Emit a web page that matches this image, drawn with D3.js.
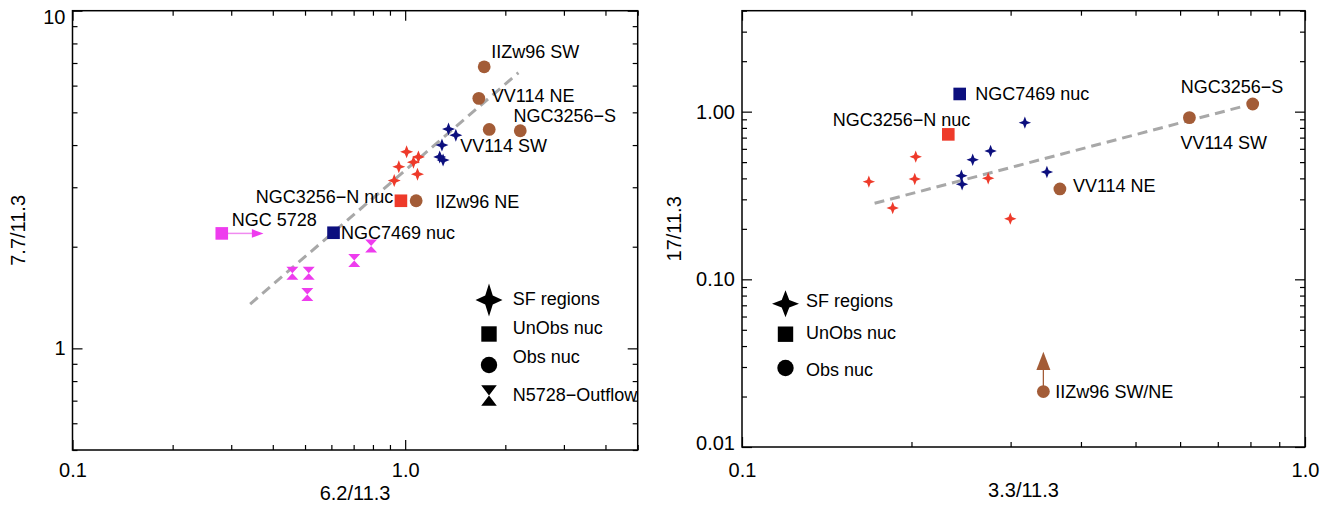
<!DOCTYPE html>
<html>
<head>
<meta charset="utf-8">
<script src="https://cdn.jsdelivr.net/npm/d3@7"></script>
<style>
  body { margin: 0; background: #fff; }
  svg { display: block; font-family: "Liberation Sans", Arial, Helvetica, sans-serif; }
</style>
</head>
<body>
<svg id="chart" width="1336" height="506"></svg>
<script>
// ---- left panel: 6.2/11.3 vs 7.7/11.3 ----
const leftSfRedX = [1.01, 1.096, 1.059, 0.957, 1.089, 0.927];
const leftSfRedY = [3.82, 3.69, 3.56, 3.45, 3.28, 3.14];
const leftSfBlueX = [1.35, 1.42, 1.29, 1.27, 1.30];
const leftSfBlueY = [4.46, 4.28, 4.00, 3.69, 3.61];
const leftObsNames = ['IIZw96 SW', 'VV114 NE', 'VV114 SW', 'NGC3256\u2212S', 'IIZw96 NE'];
const leftObsX = [1.728, 1.665, 1.789, 2.218, 1.079];
const leftObsY = [6.82, 5.50, 4.45, 4.41, 2.736];
const leftUnobsNames = ['NGC3256\u2212N nuc', 'NGC7469 nuc', 'NGC 5728'];
const leftUnobsX = [0.971, 0.609, 0.281];
const leftUnobsY = [2.736, 2.20, 2.19];
const leftUnobsGroup = ['red', 'navy', 'magenta'];
const leftOutflowX = [0.79, 0.703, 0.458, 0.513, 0.508];
const leftOutflowY = [2.01, 1.82, 1.67, 1.67, 1.445];
const leftFitX = [0.342, 2.19];
const leftFitY = [1.353, 6.55];
const leftLimitFromX = 0.281, leftLimitToX = 0.375, leftLimitY = 2.19;   // NGC 5728 lower limit

// ---- right panel: 3.3/11.3 vs 17/11.3 ----
const rightSfRedX = [0.168, 0.2035, 0.2027, 0.1852, 0.2737, 0.2996];
const rightSfRedY = [0.3825, 0.539, 0.3967, 0.2663, 0.4003, 0.23];
const rightSfBlueX = [0.318, 0.2764, 0.2569, 0.2453, 0.246, 0.348];
const rightSfBlueY = [0.86, 0.582, 0.517, 0.415, 0.3686, 0.4367];
const rightObsNames = ['VV114 NE', 'VV114 SW', 'NGC3256\u2212S', 'IIZw96 SW/NE'];
const rightObsX = [0.367, 0.6233, 0.8074, 0.343];
const rightObsY = [0.346, 0.921, 1.111, 0.0214];
const rightUnobsNames = ['NGC7469 nuc', 'NGC3256\u2212N nuc'];
const rightUnobsX = [0.2436, 0.2325];
const rightUnobsY = [1.275, 0.732];
const rightUnobsGroup = ['navy', 'red'];
const rightFitX = [0.172, 0.78];
const rightFitY = [0.284, 1.08];
const rightLimitX = 0.343, rightLimitFromY = 0.0214, rightLimitToY = 0.037;  // IIZw96 SW/NE lower limit

// ---- ticks and titles ----
const leftXTicks = [0.1, 1], leftXTickLabels = ['0.1', '1.0'];
const leftYTicks = [1, 10], leftYTickLabels = ['1', '10'];
const rightXTicks = [0.1, 1], rightXTickLabels = ['0.1', '1.0'];
const rightYTicks = [0.01, 0.1, 1], rightYTickLabels = ['0.01', '0.10', '1.00'];
const leftLegendLabels = ['SF regions', 'UnObs nuc', 'Obs nuc', 'N5728\u2212Outflow'];
const rightLegendLabels = ['SF regions', 'UnObs nuc', 'Obs nuc'];

const colors = { red: '#ee3a2a', navy: '#0c0f7e', brown: '#a35c37', magenta: '#ee3cee', fit: '#a8a8a8' };

// label offsets from the marker centre (px)
const leftLabelPos = {
	'IIZw96 SW': [7, -8.7, 'start'],
	'VV114 NE': [13, 4, 'start'],
	'VV114 SW': [-29, 22.4, 'start'],
	'NGC3256\u2212S': [-6.7, -8.7, 'start'],
	'IIZw96 NE': [19, 7, 'start'],
	'NGC3256\u2212N nuc': [-7.7, 2.3, 'end'],
	'NGC7469 nuc': [7.4, 6.3, 'start'],
	'NGC 5728': [10, -7, 'start']
};
const rightLabelPos = {
	'NGC7469 nuc': [15.5, 6, 'start'],
	'NGC3256\u2212N nuc': [22, -8, 'end'],
	'NGC3256\u2212S': [-72, -11, 'start'],
	'VV114 SW': [-9, 31, 'start'],
	'VV114 NE': [13, 3, 'start'],
	'IIZw96 SW/NE': [12, 6, 'start']
};

function starPath(rx, ry) {
	ry = ry || rx;
	var wx = rx * 0.28, wy = ry * 0.28;
	return 'M0,' + (-ry) + 'L' + wx + ',' + (-wy) + 'L' + rx + ',0L' + wx + ',' + wy +
		'L0,' + ry + 'L' + (-wx) + ',' + wy + 'L' + (-rx) + ',0L' + (-wx) + ',' + (-wy) + 'Z';
}
function hourglassPath(w, h) {
	return 'M' + (-w) + ',' + (-h) + 'L' + w + ',' + (-h) + 'L0,0L' + w + ',' + h + 'L' + (-w) + ',' + h + 'L0,0Z';
}
function zip(xs, ys) { return xs.map(function(v, i) { return [v, ys[i]]; }); }

const svg = d3.select('#chart');

function drawAxes(x, y, cfg) {
	var xr = x.range(), yr = y.range();
	var left = xr[0], right = xr[1], bottom = yr[0], top = yr[1];
	var isMajor = function(majors) {
		return function(v) { return majors.some(function(m) { return Math.abs(Math.log10(v / m)) < 1e-6; }); };
	};
	var xMinor = x.ticks().filter(function(v) { return !isMajor(cfg.xTicks)(v); });
	var yMinor = y.ticks().filter(function(v) { return !isMajor(cfg.yTicks)(v); });
	var g = svg.append('g').attr('class', 'axes');

	function style(sel) {
		sel.select('.domain').remove();
		sel.attr('font-family', null).attr('font-size', 20);
		sel.selectAll('line').attr('stroke', '#000').attr('stroke-width', 1.2);
		sel.selectAll('text').attr('fill', '#000');
	}

	var xPad = 477 - bottom - 14.2;
	g.append('g').attr('transform', 'translate(0,' + bottom + ')')
		.call(d3.axisBottom(x).tickValues(cfg.xTicks).tickSize(-10).tickPadding(xPad)
			.tickFormat(function(d, i) { return cfg.xLabels[i]; }))
		.call(style);
	g.append('g').attr('transform', 'translate(0,' + bottom + ')')
		.call(d3.axisBottom(x).tickValues(xMinor).tickSize(-5).tickFormat(''))
		.call(style);
	g.append('g').attr('transform', 'translate(0,' + top + ')')
		.call(d3.axisTop(x).tickValues(cfg.xTicks).tickSize(-10).tickFormat(''))
		.call(style);
	g.append('g').attr('transform', 'translate(0,' + top + ')')
		.call(d3.axisTop(x).tickValues(xMinor).tickSize(-5).tickFormat(''))
		.call(style);

	g.append('g').attr('transform', 'translate(' + left + ',0)')
		.call(d3.axisLeft(y).tickValues(cfg.yTicks).tickSize(-10).tickPadding(7)
			.tickFormat(function(d, i) { return cfg.yLabels[i]; }))
		.call(style)
		.selectAll('.tick text')
		.attr('y', function(d) {
			var p = y(d);
			return Math.max(0, top + 6 - p) + Math.min(0, bottom - 4 - p);
		});
	g.append('g').attr('transform', 'translate(' + left + ',0)')
		.call(d3.axisLeft(y).tickValues(yMinor).tickSize(-5).tickFormat(''))
		.call(style);
	g.append('g').attr('transform', 'translate(' + right + ',0)')
		.call(d3.axisRight(y).tickValues(cfg.yTicks).tickSize(-10).tickFormat(''))
		.call(style);
	g.append('g').attr('transform', 'translate(' + right + ',0)')
		.call(d3.axisRight(y).tickValues(yMinor).tickSize(-5).tickFormat(''))
		.call(style);

	// frame
	g.append('rect')
		.attr('x', left).attr('y', top)
		.attr('width', right - left).attr('height', bottom - top)
		.attr('fill', 'none').attr('stroke', '#000').attr('stroke-width', 1.5);

	// titles
	g.append('text')
		.attr('x', (left + right) / 2).attr('y', cfg.xTitleY)
		.attr('text-anchor', 'middle').attr('font-size', 20)
		.text(cfg.xTitle);
	g.append('text')
		.attr('transform', 'translate(' + cfg.yTitleX + ',' + (top + bottom) / 2 + ') rotate(-90)')
		.attr('text-anchor', 'middle').attr('font-size', 20)
		.text(cfg.yTitle);
}

function drawFit(x, y, xs, ys) {
	var line = d3.line().x(function(d) { return x(d[0]); }).y(function(d) { return y(d[1]); });
	svg.append('path')
		.datum(zip(xs, ys))
		.attr('d', line)
		.attr('fill', 'none')
		.attr('stroke', colors.fit)
		.attr('stroke-width', 3)
		.attr('stroke-dasharray', '10,6');
}

function drawStars(x, y, xs, ys, color, r) {
	svg.append('g').selectAll('path')
		.data(zip(xs, ys))
		.enter().append('path')
		.attr('transform', function(d) { return 'translate(' + x(d[0]) + ',' + y(d[1]) + ')'; })
		.attr('d', starPath(r))
		.attr('fill', color);
}

function drawCircles(x, y, xs, ys, color) {
	svg.append('g').selectAll('circle')
		.data(zip(xs, ys))
		.enter().append('circle')
		.attr('cx', function(d) { return x(d[0]); })
		.attr('cy', function(d) { return y(d[1]); })
		.attr('r', 6.4)
		.attr('fill', color);
}

function drawSquares(x, y, xs, ys, groups) {
	svg.append('g').selectAll('rect')
		.data(zip(xs, ys))
		.enter().append('rect')
		.attr('x', function(d) { return x(d[0]) - 6.3; })
		.attr('y', function(d) { return y(d[1]) - 6.3; })
		.attr('width', 12.6).attr('height', 12.6)
		.attr('fill', function(d, i) { return colors[groups[i]]; });
}

function drawLabels(x, y, names, xs, ys, pos) {
	svg.append('g').selectAll('text')
		.data(names)
		.enter().append('text')
		.attr('x', function(d, i) { return x(xs[i]) + pos[d][0]; })
		.attr('y', function(d, i) { return y(ys[i]) + pos[d][1]; })
		.attr('text-anchor', function(d) { return pos[d][2]; })
		.attr('font-size', 18)
		.attr('fill', '#000')
		.text(function(d) { return d; });
}

function drawLegend(symbolX, textX, rows, labels) {
	var g = svg.append('g').attr('class', 'legend');
	rows.forEach(function(row, i) {
		var sg = g.append('g').attr('transform', 'translate(' + symbolX + ',' + row.sy + ')');
		if (row.kind === 'star') sg.append('path').attr('d', starPath(13.5, row.ry || 13.5)).attr('fill', '#000');
		if (row.kind === 'square') sg.append('rect').attr('x', -7.7).attr('y', -7.7).attr('width', 15.4).attr('height', 15.4).attr('fill', '#000');
		if (row.kind === 'circle') sg.append('circle').attr('r', 8.2).attr('fill', '#000');
		if (row.kind === 'hourglass') sg.append('path').attr('d', hourglassPath(7.8, 10.3)).attr('fill', '#000');
		g.append('text')
			.attr('x', textX).attr('y', row.ty)
			.attr('font-size', 18).attr('fill', '#000')
			.text(labels[i]);
	});
}

// ---------------- left panel ----------------
const xL = d3.scaleLog().domain([0.1, 5]).range([72.5, 637.7]);
const yL = d3.scaleLog().domain([0.5, 10]).range([450, 10.7]);

drawAxes(xL, yL, {
	xTicks: leftXTicks, xLabels: leftXTickLabels,
	yTicks: leftYTicks, yLabels: leftYTickLabels,
	xTitle: '6.2/11.3', yTitle: '7.7/11.3', xTitleY: 500, yTitleX: 25
});
drawFit(xL, yL, leftFitX, leftFitY);

// NGC 5728 limit arrow
(function() {
	var y0 = yL(leftLimitY), xs = xL(leftLimitFromX), xt = xL(leftLimitToX);
	svg.append('line')
		.attr('x1', xs).attr('x2', xt - 11)
		.attr('y1', y0).attr('y2', y0)
		.attr('stroke', '#f08af0').attr('stroke-width', 1.5);
	svg.append('path')
		.attr('d', 'M' + xt + ',' + y0 + 'L' + (xt - 11.6) + ',' + (y0 - 4.3) + 'L' + (xt - 11.6) + ',' + (y0 + 4.3) + 'Z')
		.attr('fill', colors.magenta);
})();

drawLabels(xL, yL, leftObsNames, leftObsX, leftObsY, leftLabelPos);
drawLabels(xL, yL, leftUnobsNames, leftUnobsX, leftUnobsY, leftLabelPos);

svg.append('g').selectAll('path')
	.data(zip(leftOutflowX, leftOutflowY))
	.enter().append('path')
	.attr('transform', function(d) { return 'translate(' + xL(d[0]) + ',' + yL(d[1]) + ')'; })
	.attr('d', hourglassPath(6, 6.5))
	.attr('fill', colors.magenta);
drawStars(xL, yL, leftSfRedX, leftSfRedY, colors.red, 6.5);
drawStars(xL, yL, leftSfBlueX, leftSfBlueY, colors.navy, 6.5);
drawSquares(xL, yL, leftUnobsX, leftUnobsY, leftUnobsGroup);
drawCircles(xL, yL, leftObsX, leftObsY, colors.brown);

drawLegend(489, 512.7, [
	{ kind: 'star', sy: 300, ry: 16.5, ty: 305 },
	{ kind: 'square', sy: 334, ty: 334.3 },
	{ kind: 'circle', sy: 365, ty: 363.3 },
	{ kind: 'hourglass', sy: 395.5, ty: 400.7 }
], leftLegendLabels);

// ---------------- right panel ----------------
const xR = d3.scaleLog().domain([0.1, 1]).range([742, 1305]);
const yR = d3.scaleLog().domain([0.01, 4]).range([447, 10.7]);

drawAxes(xR, yR, {
	xTicks: rightXTicks, xLabels: rightXTickLabels,
	yTicks: rightYTicks, yLabels: rightYTickLabels,
	xTitle: '3.3/11.3', yTitle: '17/11.3', xTitleY: 497, yTitleX: 681
});
drawFit(xR, yR, rightFitX, rightFitY);

// IIZw96 SW/NE limit arrow
(function() {
	var x0 = xR(rightLimitX), ys = yR(rightLimitFromY), yt = yR(rightLimitToY);
	svg.append('line')
		.attr('x1', x0).attr('x2', x0)
		.attr('y1', ys).attr('y2', yt + 17)
		.attr('stroke', colors.brown).attr('stroke-width', 1.3);
	svg.append('path')
		.attr('d', 'M' + x0 + ',' + yt + 'L' + (x0 - 7) + ',' + (yt + 18.3) + 'L' + (x0 + 7) + ',' + (yt + 18.3) + 'Z')
		.attr('fill', colors.brown);
})();

drawLabels(xR, yR, rightObsNames, rightObsX, rightObsY, rightLabelPos);
drawLabels(xR, yR, rightUnobsNames, rightUnobsX, rightUnobsY, rightLabelPos);

drawStars(xR, yR, rightSfRedX, rightSfRedY, colors.red, 6.2);
drawStars(xR, yR, rightSfBlueX, rightSfBlueY, colors.navy, 6.2);
drawSquares(xR, yR, rightUnobsX, rightUnobsY, rightUnobsGroup);
drawCircles(xR, yR, rightObsX, rightObsY, colors.brown);

drawLegend(785.5, 806, [
	{ kind: 'star', sy: 303.7, ty: 306.7 },
	{ kind: 'square', sy: 334.2, ty: 338.7 },
	{ kind: 'circle', sy: 368, ty: 375.7 }
], rightLegendLabels);
</script>
</body>
</html>
